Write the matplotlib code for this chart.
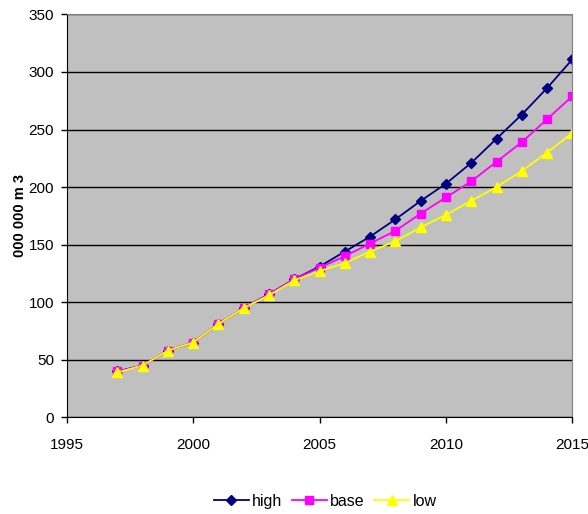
import matplotlib
matplotlib.use("Agg")
import matplotlib.pyplot as plt

plt.rcParams["font.family"] = ["Liberation Sans", "DejaVu Sans"]

years = list(range(1997, 2016))
high = [40, 45, 58, 65, 81, 95, 107, 120, 131, 144, 157, 172, 188, 203, 221, 242, 263, 286, 311]
base = [40, 45, 58, 65, 81, 95, 107, 120, 130, 140, 151, 162, 177, 191, 205, 222, 239, 259, 279]
low = [39, 45, 58, 65, 81, 95, 106, 119, 127, 134, 144, 153, 165, 176, 188, 200, 214, 230, 247]

fig = plt.figure(figsize=(5.88, 5.14), dpi=100)
ax = fig.add_axes([0.1134, 0.188, 0.86, 0.784])
ax.set_facecolor("#c0c0c0")

ax.plot(years, high, color="#000080", marker="D", markersize=5.5, linewidth=1.3, label="high")
ax.plot(years, base, color="#ff00ff", marker="s", markersize=6, linewidth=1.3, label="base")
ax.plot(years, low, color="#ffff00", marker="^", markersize=7, linewidth=1.3, label="low")

ax.set_xlim(1995, 2015)
ax.set_ylim(0, 350)
ax.set_xticks(range(1995, 2016, 5))
ax.set_yticks(range(0, 351, 50))
ax.yaxis.grid(True, color="black", linewidth=1)
ax.set_axisbelow(True)
ax.tick_params(labelsize=11, direction="out", length=4, width=1, color="black")
ax.tick_params(axis="x", pad=11)
ax.tick_params(axis="y", pad=5)
for side in ("top", "right"):
    ax.spines[side].set_color("#808080")
for side in ("left", "bottom"):
    ax.spines[side].set_color("black")

ax.set_ylabel("000 000 m 3", fontsize=10.5, fontweight="bold", va="center")
ax.yaxis.set_label_coords(-0.093, 0.5)

fig.legend(loc="lower center", bbox_to_anchor=(0.553, -0.018), ncol=3, frameon=False,
           fontsize=11.5, handlelength=2.2, handletextpad=0.2, columnspacing=0.6)

fig.savefig("out.png", dpi=100)
